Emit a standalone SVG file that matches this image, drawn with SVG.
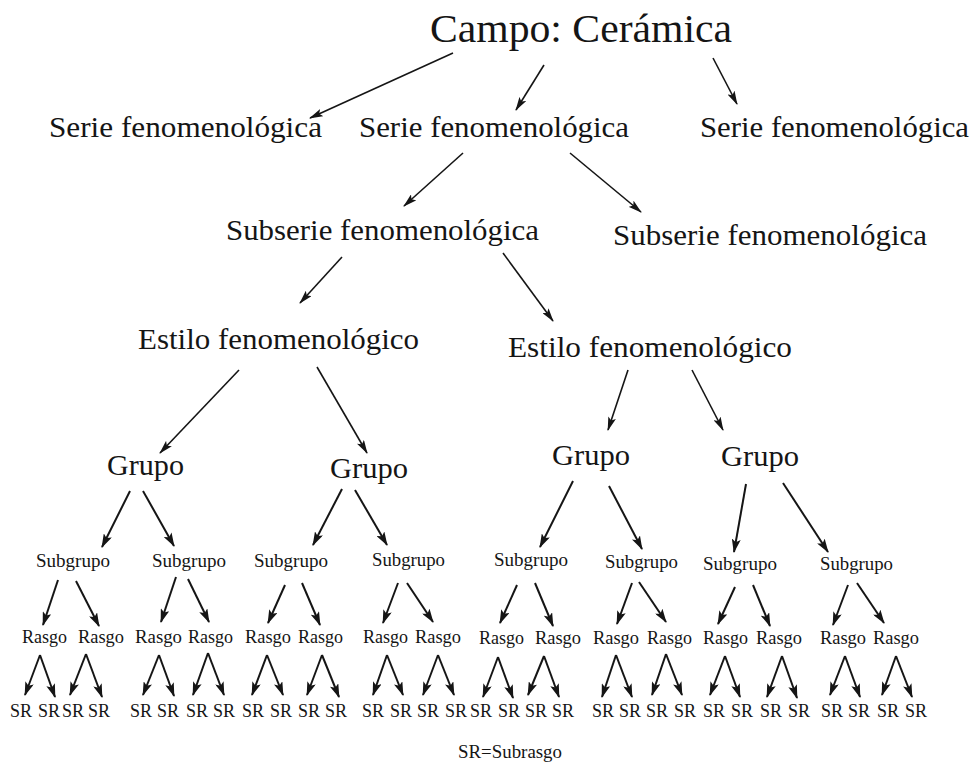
<svg xmlns="http://www.w3.org/2000/svg" width="975" height="763" viewBox="0 0 975 763">
<style>
text{font-family:"Liberation Serif","Times New Roman",serif;fill:#151515}
.t40{font-size:40px}
.t30{font-size:30px}
.t19{font-size:19px}
.t18{font-size:18px}
.c{stroke:#151515;fill:none}
.a1{stroke-width:1.6;marker-end:url(#ah)}
.a2{stroke-width:2;marker-end:url(#ah2)}
</style>
<defs>
<marker id="ah" viewBox="0 0 14 8" refX="13" refY="4" markerWidth="14" markerHeight="8" markerUnits="userSpaceOnUse" orient="auto">
<path d="M0,0 L14,4 L0,8 L3,4 z" fill="#151515"/>
</marker>
<marker id="ah2" viewBox="0 0 14 9" refX="13" refY="4.5" markerWidth="14" markerHeight="9" markerUnits="userSpaceOnUse" orient="auto">
<path d="M0,0 L14,4.5 L0,9 L3,4.5 z" fill="#151515"/>
</marker>
</defs>
<rect width="975" height="763" fill="#ffffff"/>

<g id="connectors">
<line class="c a1" x1="453" y1="53" x2="310" y2="118"/>
<line class="c a1" x1="544" y1="65" x2="516" y2="110"/>
<line class="c a1" x1="713" y1="58" x2="737" y2="104"/>
<line class="c a1" x1="463" y1="153" x2="404" y2="206"/>
<line class="c a1" x1="570" y1="153" x2="641" y2="212"/>
<line class="c a1" x1="342" y1="257" x2="300" y2="303"/>
<line class="c a1" x1="503" y1="253" x2="553" y2="321"/>
<line class="c a1" x1="239" y1="370" x2="160" y2="453"/>
<line class="c a1" x1="317" y1="367" x2="367" y2="453"/>
<line class="c a1" x1="628" y1="370" x2="608" y2="430"/>
<line class="c a1" x1="692" y1="370" x2="723" y2="430"/>
<line class="c a2" x1="130" y1="491" x2="102" y2="547"/>
<line class="c a2" x1="143" y1="491" x2="174" y2="546"/>
<line class="c a2" x1="342" y1="489" x2="313" y2="545"/>
<line class="c a2" x1="355" y1="490" x2="387" y2="545"/>
<line class="c a2" x1="573" y1="481" x2="540" y2="547"/>
<line class="c a2" x1="609" y1="486" x2="642" y2="549"/>
<line class="c a2" x1="746" y1="484" x2="734" y2="552"/>
<line class="c a2" x1="783" y1="483" x2="828" y2="552"/>
<line class="c a2" x1="58" y1="580" x2="43" y2="625"/>
<line class="c a2" x1="76" y1="581" x2="99" y2="626"/>
<line class="c a2" x1="176" y1="577" x2="161" y2="622"/>
<line class="c a2" x1="188" y1="579" x2="209" y2="622"/>
<line class="c a2" x1="285" y1="585" x2="268" y2="623"/>
<line class="c a2" x1="302" y1="583" x2="320" y2="625"/>
<line class="c a2" x1="398" y1="583" x2="383" y2="623"/>
<line class="c a2" x1="407" y1="583" x2="433" y2="622"/>
<line class="c a2" x1="517" y1="585" x2="500" y2="623"/>
<line class="c a2" x1="535" y1="583" x2="553" y2="626"/>
<line class="c a2" x1="632" y1="583" x2="617" y2="624"/>
<line class="c a2" x1="639" y1="582" x2="666" y2="622"/>
<line class="c a2" x1="735" y1="587" x2="718" y2="624"/>
<line class="c a2" x1="753" y1="585" x2="770" y2="626"/>
<line class="c a2" x1="848" y1="585" x2="833" y2="625"/>
<line class="c a2" x1="857" y1="583" x2="884" y2="623"/>
<line class="c a2" x1="40" y1="655" x2="25" y2="695"/><line class="c a2" x1="40" y1="655" x2="55" y2="697"/>
<line class="c a2" x1="86" y1="654" x2="70" y2="695"/><line class="c a2" x1="86" y1="654" x2="102" y2="697"/>
<line class="c a2" x1="159" y1="655" x2="143" y2="695"/><line class="c a2" x1="159" y1="655" x2="174" y2="696"/>
<line class="c a2" x1="208" y1="653" x2="193" y2="695"/><line class="c a2" x1="208" y1="653" x2="224" y2="695"/>
<line class="c a2" x1="267" y1="655" x2="252" y2="695"/><line class="c a2" x1="267" y1="655" x2="283" y2="695"/>
<line class="c a2" x1="322" y1="655" x2="307" y2="695"/><line class="c a2" x1="322" y1="655" x2="339" y2="697"/>
<line class="c a2" x1="387" y1="655" x2="373" y2="695"/><line class="c a2" x1="387" y1="655" x2="403" y2="695"/>
<line class="c a2" x1="438" y1="655" x2="423" y2="695"/><line class="c a2" x1="438" y1="655" x2="454" y2="695"/>
<line class="c a2" x1="498" y1="657" x2="483" y2="697"/><line class="c a2" x1="498" y1="657" x2="513" y2="698"/>
<line class="c a2" x1="544" y1="656" x2="528" y2="695"/><line class="c a2" x1="544" y1="656" x2="559" y2="697"/>
<line class="c a2" x1="616" y1="655" x2="602" y2="697"/><line class="c a2" x1="616" y1="655" x2="632" y2="697"/>
<line class="c a2" x1="666" y1="654" x2="652" y2="695"/><line class="c a2" x1="666" y1="654" x2="682" y2="695"/>
<line class="c a2" x1="725" y1="656" x2="710" y2="695"/><line class="c a2" x1="725" y1="656" x2="740" y2="697"/>
<line class="c a2" x1="782" y1="656" x2="767" y2="697"/><line class="c a2" x1="782" y1="656" x2="797" y2="698"/>
<line class="c a2" x1="845" y1="656" x2="830" y2="695"/><line class="c a2" x1="845" y1="656" x2="860" y2="697"/>
<line class="c a2" x1="896" y1="656" x2="882" y2="695"/><line class="c a2" x1="896" y1="656" x2="912" y2="697"/>
</g>

<g id="campo"><text class="t40" x="430" y="42" textLength="302" lengthAdjust="spacingAndGlyphs">Campo: Cerámica</text></g>

<g id="serie1"><text class="t30" x="49" y="137" textLength="273" lengthAdjust="spacingAndGlyphs">Serie fenomenológica</text></g>
<g id="serie2"><text class="t30" x="359" y="137" textLength="270" lengthAdjust="spacingAndGlyphs">Serie fenomenológica</text></g>
<g id="serie3"><text class="t30" x="700" y="137" textLength="269" lengthAdjust="spacingAndGlyphs">Serie fenomenológica</text></g>

<g id="subserie1"><text class="t30" x="226" y="240" textLength="313" lengthAdjust="spacingAndGlyphs">Subserie fenomenológica</text></g>
<g id="subserie2"><text class="t30" x="613" y="245" textLength="314" lengthAdjust="spacingAndGlyphs">Subserie fenomenológica</text></g>

<g id="estilo1"><text class="t30" x="138" y="349" textLength="281" lengthAdjust="spacingAndGlyphs">Estilo fenomenológico</text></g>
<g id="estilo2"><text class="t30" x="508" y="357" textLength="284" lengthAdjust="spacingAndGlyphs">Estilo fenomenológico</text></g>

<g id="grupo1"><text class="t30" x="107" y="475" textLength="77" lengthAdjust="spacingAndGlyphs">Grupo</text></g>
<g id="grupo2"><text class="t30" x="330" y="478" textLength="78" lengthAdjust="spacingAndGlyphs">Grupo</text></g>
<g id="grupo3"><text class="t30" x="552" y="465" textLength="78" lengthAdjust="spacingAndGlyphs">Grupo</text></g>
<g id="grupo4"><text class="t30" x="721" y="466" textLength="78" lengthAdjust="spacingAndGlyphs">Grupo</text></g>

<g id="subgrupo1"><text class="t19" x="36" y="567" textLength="74" lengthAdjust="spacingAndGlyphs">Subgrupo</text></g>
<g id="subgrupo2"><text class="t19" x="152" y="567" textLength="74" lengthAdjust="spacingAndGlyphs">Subgrupo</text></g>
<g id="subgrupo3"><text class="t19" x="254" y="567" textLength="74" lengthAdjust="spacingAndGlyphs">Subgrupo</text></g>
<g id="subgrupo4"><text class="t19" x="372" y="566" textLength="73" lengthAdjust="spacingAndGlyphs">Subgrupo</text></g>
<g id="subgrupo5"><text class="t19" x="494" y="566" textLength="74" lengthAdjust="spacingAndGlyphs">Subgrupo</text></g>
<g id="subgrupo6"><text class="t19" x="605" y="568" textLength="73" lengthAdjust="spacingAndGlyphs">Subgrupo</text></g>
<g id="subgrupo7"><text class="t19" x="703" y="570" textLength="74" lengthAdjust="spacingAndGlyphs">Subgrupo</text></g>
<g id="subgrupo8"><text class="t19" x="820" y="570" textLength="73" lengthAdjust="spacingAndGlyphs">Subgrupo</text></g>

<g id="rasgos">
<text class="t18" x="22" y="643" textLength="45" lengthAdjust="spacingAndGlyphs">Rasgo</text>
<text class="t18" x="78" y="643" textLength="46" lengthAdjust="spacingAndGlyphs">Rasgo</text>
<text class="t18" x="135" y="643" textLength="47" lengthAdjust="spacingAndGlyphs">Rasgo</text>
<text class="t18" x="188" y="643" textLength="45" lengthAdjust="spacingAndGlyphs">Rasgo</text>
<text class="t18" x="245" y="643" textLength="46" lengthAdjust="spacingAndGlyphs">Rasgo</text>
<text class="t18" x="298" y="643" textLength="45" lengthAdjust="spacingAndGlyphs">Rasgo</text>
<text class="t18" x="363" y="643" textLength="45" lengthAdjust="spacingAndGlyphs">Rasgo</text>
<text class="t18" x="415" y="643" textLength="46" lengthAdjust="spacingAndGlyphs">Rasgo</text>
<text class="t18" x="479" y="644" textLength="45" lengthAdjust="spacingAndGlyphs">Rasgo</text>
<text class="t18" x="535" y="644" textLength="46" lengthAdjust="spacingAndGlyphs">Rasgo</text>
<text class="t18" x="593" y="644" textLength="46" lengthAdjust="spacingAndGlyphs">Rasgo</text>
<text class="t18" x="647" y="644" textLength="45" lengthAdjust="spacingAndGlyphs">Rasgo</text>
<text class="t18" x="703" y="644" textLength="45" lengthAdjust="spacingAndGlyphs">Rasgo</text>
<text class="t18" x="756" y="644" textLength="46" lengthAdjust="spacingAndGlyphs">Rasgo</text>
<text class="t18" x="820" y="644" textLength="46" lengthAdjust="spacingAndGlyphs">Rasgo</text>
<text class="t18" x="873" y="644" textLength="46" lengthAdjust="spacingAndGlyphs">Rasgo</text>
</g>

<g id="subrasgos">
<text class="t18" x="10" y="717">SR</text><text class="t18" x="38" y="717">SR</text>
<text class="t18" x="62" y="717">SR</text><text class="t18" x="88" y="717">SR</text>
<text class="t18" x="130" y="717">SR</text><text class="t18" x="157" y="717">SR</text>
<text class="t18" x="186" y="717">SR</text><text class="t18" x="213" y="717">SR</text>
<text class="t18" x="242" y="717">SR</text><text class="t18" x="270" y="717">SR</text>
<text class="t18" x="298" y="717">SR</text><text class="t18" x="325" y="717">SR</text>
<text class="t18" x="362" y="717">SR</text><text class="t18" x="390" y="717">SR</text>
<text class="t18" x="417" y="717">SR</text><text class="t18" x="445" y="717">SR</text>
<text class="t18" x="470" y="717">SR</text><text class="t18" x="498" y="717">SR</text>
<text class="t18" x="525" y="717">SR</text><text class="t18" x="552" y="717">SR</text>
<text class="t18" x="592" y="717">SR</text><text class="t18" x="619" y="717">SR</text>
<text class="t18" x="646" y="717">SR</text><text class="t18" x="674" y="717">SR</text>
<text class="t18" x="703" y="717">SR</text><text class="t18" x="731" y="717">SR</text>
<text class="t18" x="760" y="717">SR</text><text class="t18" x="788" y="717">SR</text>
<text class="t18" x="821" y="717">SR</text><text class="t18" x="848" y="717">SR</text>
<text class="t18" x="877" y="717">SR</text><text class="t18" x="905" y="717">SR</text>
</g>

<g id="legend"><text class="t18" x="458" y="758" textLength="104" lengthAdjust="spacingAndGlyphs">SR=Subrasgo</text></g>
</svg>
